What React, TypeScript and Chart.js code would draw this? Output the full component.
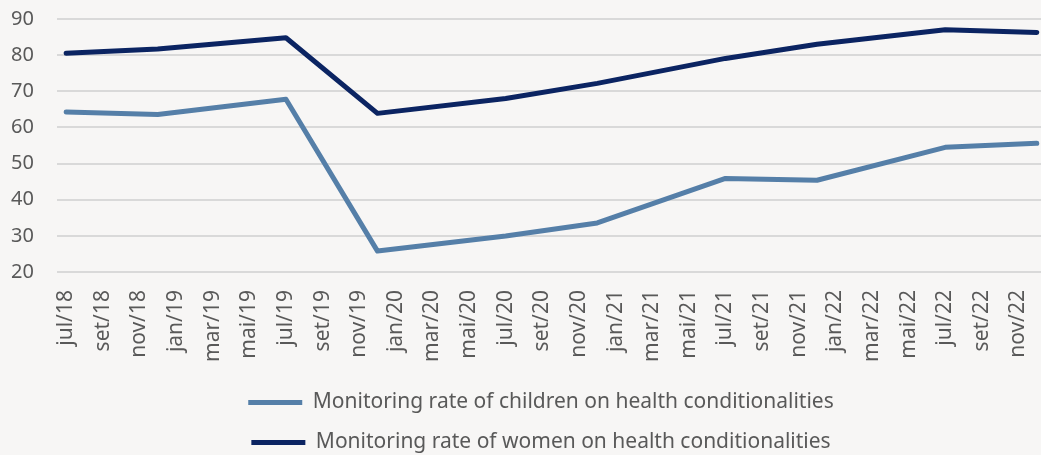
import React, { useEffect, useRef } from "react";
import { Chart, registerables } from "chart.js";

Chart.register(...registerables);

const monthNames = ["jan", "fev", "mar", "abr", "mai", "jun", "jul", "ago", "set", "out", "nov", "dez"];
const startYear = 18;
const startMonth = 6; // jul
const monthCount = 54; // jul/18 .. dez/22

const categories: string[] = [];
for (let i = 0; i < monthCount; i++) {
  const m = (startMonth + i) % 12;
  const y = startYear + Math.floor((startMonth + i) / 12);
  categories.push(`${monthNames[m]}/${y}`);
}

const pointMonths = ["jul/18", "dez/18", "jul/19", "dez/19", "jul/20", "dez/20", "jul/21", "dez/21", "jul/22", "dez/22"];
const childrenRate = [64.3, 63.6, 67.8, 25.8, 30.0, 33.6, 45.9, 45.4, 54.5, 55.6];
const womenRate = [80.5, 81.7, 84.8, 63.9, 68.0, 72.2, 79.1, 83.0, 87.0, 86.3];

const seriesNames = [
  "Monitoring rate of children on health conditionalities",
  "Monitoring rate of women on health conditionalities",
];

const BG = "#F7F6F5";
const FONT = "'Noto Sans', sans-serif";

export default function App() {
  const ref = useRef<HTMLCanvasElement | null>(null);

  useEffect(() => {
    document.body.style.margin = "0";
    document.body.style.background = BG;
    const bgPlugin = {
      id: "bg",
      beforeDraw(chart: any) {
        const c = chart.ctx;
        c.save();
        c.fillStyle = BG;
        c.fillRect(0, 0, chart.width, chart.height);
        c.restore();
      },
    };
    const chart = new Chart(ref.current!, {
      type: "line",
      data: {
        labels: categories,
        datasets: [
          {
            label: seriesNames[0],
            data: pointMonths.map((m, i) => ({ x: m, y: childrenRate[i] })) as any,
            borderColor: "#557FA8",
            backgroundColor: "#557FA8",
            borderWidth: 5,
            pointRadius: 0,
            tension: 0,
            borderCapStyle: "round",
            borderJoinStyle: "round",
          },
          {
            label: seriesNames[1],
            data: pointMonths.map((m, i) => ({ x: m, y: womenRate[i] })) as any,
            borderColor: "#0B2462",
            backgroundColor: "#0B2462",
            borderWidth: 5,
            pointRadius: 0,
            tension: 0,
            borderCapStyle: "round",
            borderJoinStyle: "round",
          },
        ],
      },
      options: {
        responsive: false,
        animation: false,
        layout: { padding: { left: 11, right: 1, top: 0, bottom: 0 } },
        plugins: {
          tooltip: { enabled: false },
          legend: {
            position: "bottom",
            labels: {
              font: { family: FONT, size: 21 },
              color: "#595959",
              usePointStyle: true,
              pointStyle: "line",
              pointStyleWidth: 54,
              padding: 19,
            },
          },
        },
        scales: {
          x: {
            type: "category",
            offset: true,
            afterFit: (s: any) => {
              s.height += 1;
            },
            grid: { display: false },
            border: { display: false },
            ticks: {
              autoSkip: false,
              minRotation: 90,
              maxRotation: 90,
              padding: 10,
              color: "#595959",
              font: { family: FONT, size: 21 },
              callback: (_v: any, i: number) => (i % 2 === 0 ? categories[i] : ""),
            },
          },
          y: {
            min: 20,
            max: 90,
            afterFit: (s: any) => {
              s.width = 46;
              s.paddingTop = 19;
              s.paddingBottom = 0;
            },
            grid: { color: "#D9D9D9", lineWidth: 2, drawTicks: false },
            border: { display: false },
            ticks: {
              stepSize: 10,
              padding: 23,
              color: "#595959",
              font: { family: FONT, size: 20 },
            },
          },
        },
      },
      plugins: [bgPlugin],
    });
    return () => chart.destroy();
  }, []);

  return (
    <div style={{ position: "fixed", left: 0, top: 0, width: 1041, height: 455, overflow: "hidden", background: BG }}>
      <canvas ref={ref} width={1072} height={463} style={{ display: "block" }} />
    </div>
  );
}
